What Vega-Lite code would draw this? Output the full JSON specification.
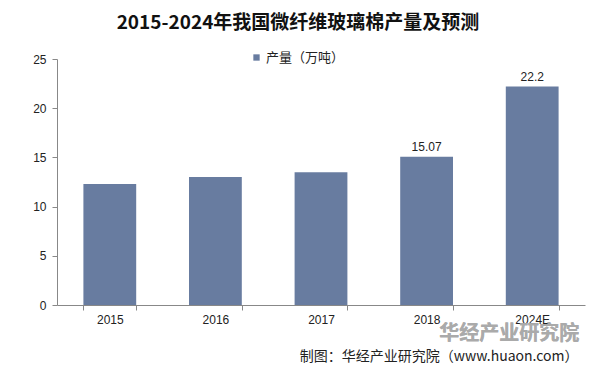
{
  "$schema": "https://vega.github.io/schema/vega-lite/v6.json",
  "width": 528,
  "height": 246,
  "autosize": {"type": "none"},
  "padding": {"left": 57, "top": 59, "right": 11, "bottom": 72},
  "background": "white",
  "title": {
    "text": "2015-2024年我国微纤维玻璃棉产量及预测",
    "font": "Noto Sans CJK SC",
    "fontSize": 19,
    "fontWeight": "bold",
    "color": "#111111",
    "anchor": "middle",
    "dx": -23,
    "offset": 18
  },
  "config": {
    "view": {"stroke": null},
    "font": "Liberation Sans"
  },
  "data": {
    "values": [
      {"year": "2015", "value": 12.3, "label": ""},
      {"year": "2016", "value": 13.0, "label": ""},
      {"year": "2017", "value": 13.5, "label": ""},
      {"year": "2018", "value": 15.07, "label": "15.07"},
      {"year": "2024E", "value": 22.2, "label": "22.2"}
    ]
  },
  "encoding": {
    "x": {
      "field": "year",
      "type": "nominal",
      "sort": ["2015", "2016", "2017", "2018", "2024E"],
      "scale": {"domain": ["2015", "2016", "2017", "2018", "2024E"], "paddingInner": 0.5, "paddingOuter": 0.25},
      "axis": {
        "title": "制图：华经产业研究院（www.huaon.com）",
        "titleFont": "Noto Sans CJK SC",
        "titleFontSize": 14,
        "titleFontWeight": "normal",
        "titleColor": "#222222",
        "titleX": 521,
        "titleY": 55,
        "titleAlign": "right",
        "titleBaseline": "alphabetic",
        "labelAngle": 0,
        "labelFontSize": 12,
        "labelColor": "#222222",
        "labelPadding": 4,
        "domainColor": "#888888",
        "tickColor": "#888888",
        "tickSize": 5,
        "tickBand": "extent",
        "grid": false
      }
    },
    "y": {
      "field": "value",
      "type": "quantitative",
      "scale": {"domain": [0, 25]},
      "axis": {
        "title": null,
        "values": [0, 5, 10, 15, 20, 25],
        "labelFontSize": 12,
        "labelColor": "#222222",
        "labelPadding": 6,
        "domainColor": "#888888",
        "tickColor": "#888888",
        "tickSize": 5,
        "grid": false
      }
    }
  },
  "layer": [
    {
      "mark": {
        "type": "text",
        "font": "Noto Sans CJK SC",
        "fontSize": 20,
        "fontWeight": "bold",
        "color": "#a9a9a9",
        "opacity": 0.5,
        "clip": false,
        "dx": -23
      },
      "encoding": {
        "x": {"datum": "2024E"},
        "y": {"datum": -2.95},
        "text": {"value": "华经产业研究院"}
      }
    },
    {
      "mark": {"type": "bar", "color": "#687ca0"},
      "encoding": {
        "color": {
          "datum": "产量（万吨）",
          "type": "nominal",
          "scale": {"range": ["#687ca0"]},
          "legend": {
            "title": null,
            "orient": "none",
            "legendX": 193,
            "legendY": -8,
            "symbolType": "square",
            "symbolSize": 40,
            "labelFont": "Noto Sans CJK SC",
            "labelFontSize": 13,
            "labelColor": "#222222",
            "labelOffset": 3
          }
        }
      }
    },
    {
      "mark": {"type": "text", "dy": -10, "fontSize": 12, "color": "#222222"},
      "encoding": {"text": {"field": "label"}}
    }
  ]
}
